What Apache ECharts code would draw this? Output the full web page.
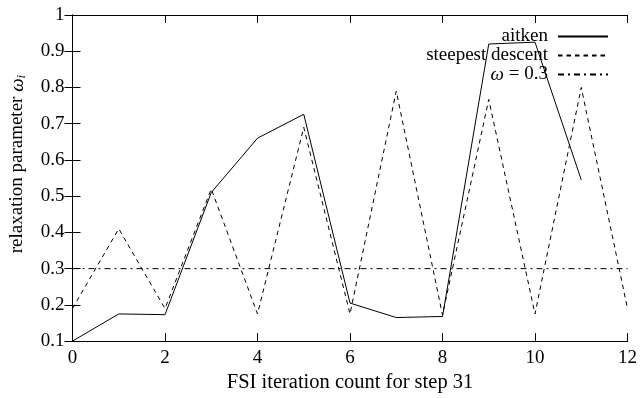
<!DOCTYPE html>
<html>
<head>
<meta charset="utf-8">
<style>
  html, body { margin: 0; padding: 0; background: #fff; }
  #main { width: 640px; height: 398px; }
</style>
<script src="https://cdn.jsdelivr.net/npm/echarts@6/dist/echarts.min.js"></script>
</head>
<body>
<div id="main"></div>
<script>
// iteration counts and relaxation parameters
var iterAitken = [0, 1, 2, 3, 4, 5, 6, 7, 8, 9, 10, 11];
var aitken = [0.1, 0.175, 0.173, 0.51, 0.66, 0.726, 0.205, 0.165, 0.168, 0.92, 0.925, 0.545];
var iterSteep = [0, 1, 2, 3, 4, 5, 6, 7, 8, 9, 10, 11, 12];
var steepest = [0.19, 0.41, 0.19, 0.52, 0.175, 0.69, 0.175, 0.79, 0.172, 0.767, 0.175, 0.80, 0.19];
var iterConst = [0, 12];
var constOmega = [0.3, 0.3];

var font = '"Liberation Serif", "DejaVu Serif", serif';
var fs = 19;

function pairs(xs, ys) {
    return xs.map(function (x, i) { return [x, ys[i]]; });
}

var dom = document.getElementById('main');
var myChart = echarts.init(dom);

var option = {
    animation: false,
    textStyle: { fontFamily: font, color: '#000' },
    grid: { left: 70, right: 11, top: 15, bottom: 56 },
    legend: {
        right: 26,
        top: 22,
        orient: 'vertical',
        align: 'right',
        itemWidth: 50,
        itemHeight: 10,
        itemGap: 0,
        selectedMode: false,
        itemStyle: { color: 'transparent', borderWidth: 0, opacity: 0 },
        textStyle: { fontFamily: font, fontSize: fs, lineHeight: 19, color: '#000', padding: [0, 5, 0, 0],
            rich: { it: { fontFamily: font, fontSize: fs, lineHeight: 19, fontStyle: 'italic' } } },
        formatter: function (name) {
            return name === 'omega' ? '{it|ω} = 0.3' : name;
        },
        data: ['aitken', 'steepest descent', 'omega']
    },
    xAxis: [
        {
            type: 'value', min: 0, max: 12, interval: 2,
            name: 'FSI iteration count for step 31',
            nameLocation: 'middle', nameGap: 23,
            nameTextStyle: { fontFamily: font, fontSize: 20.5, color: '#000' },
            axisLine: { lineStyle: { color: '#000', width: 1 } },
            axisTick: { inside: true, length: 8, lineStyle: { color: '#000' } },
            axisLabel: { fontFamily: font, fontSize: fs, color: '#000', margin: 7 },
            splitLine: { show: false }
        },
        {
            type: 'value', min: 0, max: 12, interval: 2, position: 'top',
            axisLine: { lineStyle: { color: '#000', width: 1 } },
            axisTick: { inside: true, length: 8, lineStyle: { color: '#000' } },
            axisLabel: { show: false },
            splitLine: { show: false }
        }
    ],
    yAxis: [
        {
            type: 'value', min: 0.1, max: 1, interval: 0.1,
            name: 'relaxation parameter {it|ω}{sub|i}',
            nameLocation: 'middle', nameGap: 44, nameRotate: 90,
            nameTextStyle: { fontFamily: font, fontSize: fs, color: '#000', padding: [0, 0, 0, 28],
                rich: {
                    it: { fontFamily: font, fontSize: fs, fontStyle: 'italic' },
                    sub: { fontFamily: font, fontSize: 13, fontStyle: 'italic', verticalAlign: 'bottom', padding: [9, 0, 0, 0] }
                } },
            axisLine: { show: true, lineStyle: { color: '#000', width: 1 } },
            axisTick: { show: true, inside: true, length: 8, lineStyle: { color: '#000' } },
            axisLabel: { fontFamily: font, fontSize: fs, color: '#000', margin: 8 },
            splitLine: { show: false }
        },
        {
            type: 'value', min: 0.1, max: 1, interval: 0.1, position: 'right',
            axisLine: { show: true, lineStyle: { color: '#000', width: 1 } },
            axisTick: { show: true, inside: true, length: 8, lineStyle: { color: '#000' } },
            axisLabel: { show: false },
            splitLine: { show: false }
        }
    ],
    series: [
        {
            name: 'aitken', type: 'line', symbol: 'none',
            color: '#000',
            lineStyle: { color: '#000', width: 1 },
            data: pairs(iterAitken, aitken)
        },
        {
            name: 'steepest descent', type: 'line', symbol: 'none',
            color: '#000',
            lineStyle: { color: '#000', width: 1, type: [4.5, 4] },
            data: pairs(iterSteep, steepest)
        },
        {
            name: 'omega', type: 'line', symbol: 'none',
            color: '#000',
            lineStyle: { color: '#000', width: 1, type: [6, 4, 2, 4] },
            data: pairs(iterConst, constOmega)
        }
    ]
};

myChart.setOption(option);
</script>
</body>
</html>
